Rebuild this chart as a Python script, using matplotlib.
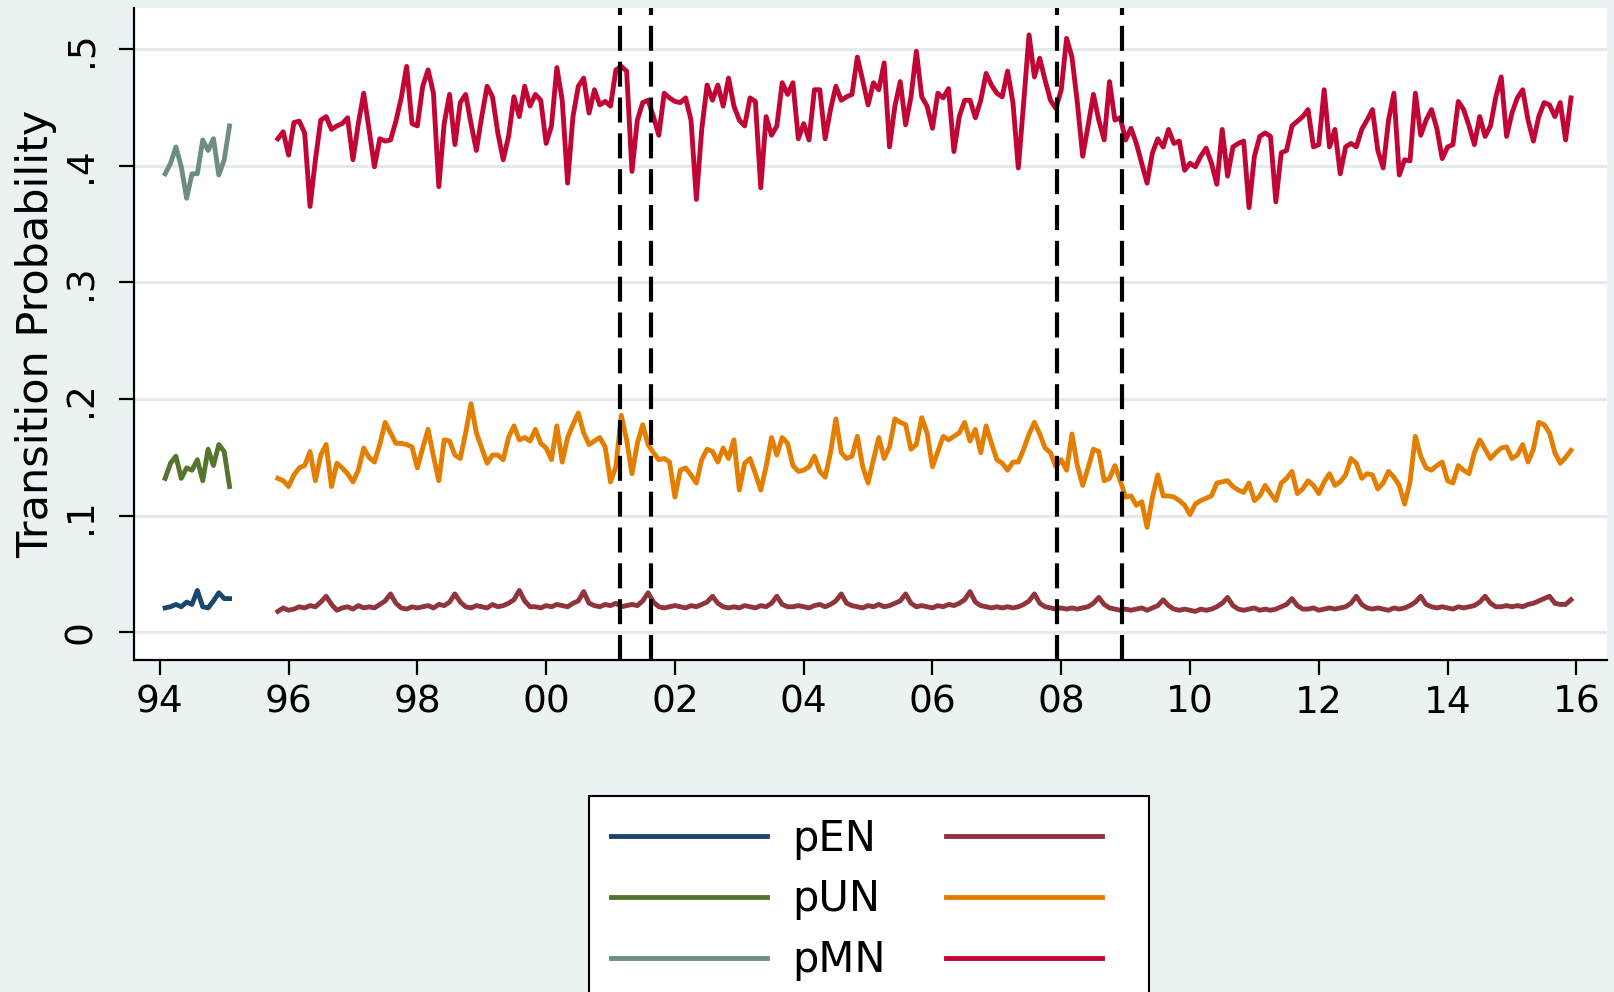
import numpy as np
import matplotlib.pyplot as plt

# monthly transition probabilities, first block Feb 1994 - Feb 1995
pEN_a = [0.021, 0.022, 0.024, 0.022, 0.026, 0.024, 0.036, 0.022, 0.021, 0.027, 0.034, 0.029, 0.029]
pUN_a = [0.132, 0.145, 0.151, 0.132, 0.141, 0.139, 0.148, 0.130, 0.157, 0.143, 0.161, 0.155, 0.125]
pMN_a = [0.393, 0.402, 0.416, 0.399, 0.372, 0.393, 0.393, 0.422, 0.413, 0.423, 0.392, 0.405, 0.434]

# second block Nov 1995 - Dec 2015 (one row = 12 months)
pEN_b = [
    0.018, 0.021, 0.019, 0.020, 0.022, 0.021, 0.023, 0.022, 0.026, 0.031, 0.024, 0.019,
    0.021, 0.022, 0.020, 0.023, 0.021, 0.022, 0.021, 0.024, 0.027, 0.033, 0.025, 0.021,
    0.020, 0.022, 0.021, 0.022, 0.023, 0.021, 0.024, 0.023, 0.026, 0.033, 0.026, 0.022,
    0.021, 0.023, 0.022, 0.021, 0.024, 0.022, 0.023, 0.025, 0.028, 0.036, 0.027, 0.022,
    0.022, 0.021, 0.023, 0.022, 0.024, 0.023, 0.022, 0.025, 0.027, 0.035, 0.025, 0.023,
    0.022, 0.024, 0.023, 0.025, 0.022, 0.023, 0.024, 0.023, 0.027, 0.034, 0.026, 0.022,
    0.021, 0.022, 0.023, 0.022, 0.021, 0.023, 0.022, 0.024, 0.026, 0.031, 0.025, 0.022,
    0.021, 0.022, 0.021, 0.023, 0.022, 0.021, 0.023, 0.022, 0.025, 0.031, 0.024, 0.022,
    0.022, 0.023, 0.022, 0.021, 0.023, 0.024, 0.022, 0.024, 0.027, 0.033, 0.025, 0.023,
    0.022, 0.021, 0.023, 0.022, 0.024, 0.022, 0.023, 0.025, 0.027, 0.033, 0.025, 0.022,
    0.023, 0.022, 0.021, 0.023, 0.022, 0.024, 0.023, 0.025, 0.028, 0.035, 0.026, 0.023,
    0.022, 0.021, 0.022, 0.021, 0.022, 0.021, 0.022, 0.024, 0.027, 0.033, 0.025, 0.022,
    0.021, 0.020, 0.021, 0.020, 0.021, 0.020, 0.021, 0.022, 0.025, 0.030, 0.024, 0.021,
    0.020, 0.019, 0.020, 0.019, 0.020, 0.021, 0.019, 0.021, 0.023, 0.028, 0.023, 0.020,
    0.019, 0.020, 0.019, 0.018, 0.020, 0.019, 0.020, 0.022, 0.025, 0.030, 0.023, 0.020,
    0.019, 0.020, 0.021, 0.019, 0.020, 0.019, 0.020, 0.022, 0.024, 0.029, 0.023, 0.020,
    0.020, 0.021, 0.019, 0.020, 0.021, 0.020, 0.021, 0.022, 0.025, 0.031, 0.024, 0.021,
    0.020, 0.021, 0.020, 0.019, 0.021, 0.020, 0.021, 0.023, 0.026, 0.031, 0.024, 0.022,
    0.021, 0.022, 0.021, 0.020, 0.022, 0.021, 0.022, 0.023, 0.026, 0.031, 0.025, 0.022,
    0.022, 0.023, 0.022, 0.023, 0.022, 0.024, 0.025, 0.027, 0.029, 0.031, 0.025, 0.024,
    0.024, 0.028,
]
pUN_b = [
    0.132, 0.130, 0.125, 0.135, 0.141, 0.143, 0.155, 0.130, 0.152, 0.161, 0.125, 0.145,
    0.141, 0.136, 0.129, 0.139, 0.158, 0.150, 0.146, 0.161, 0.180, 0.171, 0.162, 0.162,
    0.161, 0.159, 0.141, 0.158, 0.174, 0.151, 0.130, 0.165, 0.164, 0.152, 0.149, 0.171,
    0.196, 0.171, 0.158, 0.145, 0.152, 0.152, 0.148, 0.167, 0.177, 0.165, 0.167, 0.164,
    0.174, 0.162, 0.158, 0.148, 0.177, 0.146, 0.167, 0.178, 0.188, 0.171, 0.161, 0.164,
    0.167, 0.159, 0.129, 0.142, 0.186, 0.165, 0.136, 0.162, 0.178, 0.161, 0.154, 0.148,
    0.149, 0.146, 0.116, 0.139, 0.141, 0.135, 0.128, 0.148, 0.157, 0.155, 0.146, 0.158,
    0.149, 0.165, 0.122, 0.145, 0.149, 0.136, 0.122, 0.142, 0.167, 0.152, 0.167, 0.162,
    0.143, 0.138, 0.139, 0.142, 0.151, 0.138, 0.133, 0.154, 0.183, 0.154, 0.149, 0.151,
    0.168, 0.142, 0.128, 0.148, 0.167, 0.149, 0.159, 0.183, 0.180, 0.178, 0.157, 0.161,
    0.184, 0.171, 0.142, 0.155, 0.168, 0.165, 0.168, 0.171, 0.180, 0.164, 0.174, 0.154,
    0.177, 0.162, 0.148, 0.145, 0.139, 0.146, 0.146, 0.157, 0.170, 0.180, 0.170, 0.158,
    0.154, 0.142, 0.148, 0.139, 0.170, 0.143, 0.126, 0.141, 0.157, 0.155, 0.130, 0.132,
    0.143, 0.130, 0.116, 0.117, 0.109, 0.112, 0.090, 0.116, 0.135, 0.117, 0.117, 0.116,
    0.113, 0.109, 0.101, 0.110, 0.113, 0.115, 0.117, 0.128, 0.129, 0.130, 0.125, 0.122,
    0.120, 0.128, 0.113, 0.117, 0.126, 0.119, 0.113, 0.128, 0.132, 0.138, 0.119, 0.123,
    0.130, 0.126, 0.119, 0.129, 0.136, 0.126, 0.129, 0.135, 0.149, 0.145, 0.132, 0.136,
    0.135, 0.123, 0.128, 0.138, 0.133, 0.126, 0.110, 0.129, 0.168, 0.151, 0.141, 0.139,
    0.143, 0.146, 0.130, 0.128, 0.143, 0.139, 0.136, 0.154, 0.165, 0.157, 0.149, 0.154,
    0.158, 0.159, 0.149, 0.152, 0.161, 0.146, 0.157, 0.180, 0.178, 0.171, 0.154, 0.145,
    0.150, 0.156,
]
pMN_b = [
    0.423, 0.429, 0.409, 0.437, 0.438, 0.428, 0.365, 0.405, 0.439, 0.442, 0.431, 0.434,
    0.436, 0.441, 0.405, 0.436, 0.462, 0.431, 0.399, 0.423, 0.421, 0.422, 0.438, 0.458,
    0.485, 0.436, 0.434, 0.468, 0.482, 0.462, 0.382, 0.436, 0.461, 0.418, 0.454, 0.461,
    0.436, 0.413, 0.442, 0.468, 0.459, 0.428, 0.405, 0.425, 0.459, 0.442, 0.468, 0.451,
    0.461, 0.456, 0.419, 0.434, 0.484, 0.456, 0.385, 0.442, 0.468, 0.475, 0.445, 0.465,
    0.452, 0.455, 0.451, 0.482, 0.485, 0.481, 0.395, 0.439, 0.454, 0.456, 0.442, 0.426,
    0.462, 0.458, 0.455, 0.454, 0.458, 0.439, 0.371, 0.431, 0.469, 0.456, 0.469, 0.451,
    0.475, 0.451, 0.439, 0.434, 0.458, 0.455, 0.381, 0.442, 0.426, 0.434, 0.471, 0.461,
    0.471, 0.423, 0.436, 0.422, 0.465, 0.465, 0.423, 0.448, 0.468, 0.456, 0.459, 0.461,
    0.493, 0.473, 0.452, 0.471, 0.465, 0.488, 0.416, 0.451, 0.472, 0.435, 0.459, 0.498,
    0.459, 0.451, 0.432, 0.462, 0.458, 0.466, 0.412, 0.442, 0.456, 0.456, 0.441, 0.456,
    0.479, 0.469, 0.462, 0.459, 0.481, 0.454, 0.398, 0.454, 0.512, 0.476, 0.492, 0.473,
    0.456, 0.449, 0.465, 0.509, 0.493, 0.454, 0.408, 0.434, 0.461, 0.439, 0.422, 0.472,
    0.439, 0.441, 0.422, 0.432, 0.419, 0.402, 0.385, 0.411, 0.423, 0.416, 0.431, 0.419,
    0.421, 0.396, 0.402, 0.399, 0.408, 0.415, 0.402, 0.384, 0.431, 0.391, 0.416, 0.419,
    0.421, 0.364, 0.408, 0.425, 0.428, 0.425, 0.369, 0.411, 0.413, 0.434, 0.438, 0.442,
    0.448, 0.416, 0.418, 0.465, 0.416, 0.431, 0.393, 0.416, 0.419, 0.416, 0.431, 0.439,
    0.448, 0.413, 0.398, 0.439, 0.462, 0.392, 0.405, 0.404, 0.462, 0.426, 0.439, 0.448,
    0.432, 0.406, 0.416, 0.418, 0.455, 0.448, 0.434, 0.418, 0.442, 0.425, 0.434, 0.459,
    0.476, 0.425, 0.445, 0.458, 0.465, 0.439, 0.421, 0.442, 0.454, 0.452, 0.442, 0.454,
    0.422, 0.458,
]

# dashed reference lines (decimal years)
vlines = [2001.15, 2001.63, 2007.93, 2008.95]

x_ticks = [1994, 1996, 1998, 2000, 2002, 2004, 2006, 2008, 2010, 2012, 2014, 2016]
x_labels = ["94", "96", "98", "00", "02", "04", "06", "08", "10", "12", "14", "16"]
y_ticks = [0, 0.1, 0.2, 0.3, 0.4, 0.5]
y_labels = ["0", ".1", ".2", ".3", ".4", ".5"]
legend_labels = ["pEN", "pUN", "pMN", "", "", ""]

bg = "#eaf2f3"
grid_c = "#e3ebec"
c_en_a, c_un_a, c_mn_a = "#1a476f", "#55752f", "#6e8e84"
c_en_b, c_un_b, c_mn_b = "#90353b", "#e37e00", "#c10534"

t_a = 1994 + (1 + np.arange(len(pEN_a))) / 12.0
t_b = 1995 + (10 + np.arange(len(pEN_b))) / 12.0

fig = plt.figure(figsize=(16.15, 9.92), dpi=100, facecolor=bg)
ax = fig.add_axes([0.083, 0.3347, 0.912, 0.6573])
ax.set_facecolor("white")

for y in y_ticks:
    ax.axhline(y, color=grid_c, lw=2.2, zorder=0)

lw = 3.5
h1, = ax.plot(t_a, pEN_a, color=c_en_a, lw=lw)
h2, = ax.plot(t_a, pUN_a, color=c_un_a, lw=lw)
h3, = ax.plot(t_a, pMN_a, color=c_mn_a, lw=lw)
h4, = ax.plot(t_b, pEN_b, color=c_en_b, lw=lw)
h5, = ax.plot(t_b, pUN_b, color=c_un_b, lw=lw)
h6, = ax.plot(t_b, pMN_b, color=c_mn_b, lw=lw)

for xv in vlines:
    ax.axvline(xv, color="black", lw=3.0, dashes=(6, 2.6), zorder=5)

ax.set_xlim(1993.60, 2016.475)
ax.set_ylim(-0.0236, 0.5351)
for s in ["top", "right"]:
    ax.spines[s].set_visible(False)
for s in ["left", "bottom"]:
    ax.spines[s].set_linewidth(1.6)

ax.set_xticks(x_ticks)
ax.set_xticklabels(x_labels)
ax.set_yticks(y_ticks)
ax.set_yticklabels(y_labels, rotation=90, va="center")
ax.tick_params(axis="both", direction="out", length=11, width=1.6, labelsize=27)
ax.tick_params(axis="x", pad=7)
ax.tick_params(axis="y", pad=14)

ax.set_ylabel("Transition Probability", fontsize=31)
ax.yaxis.set_label_coords(-0.0525, 0.5)

leg = fig.legend([h1, h2, h3, h4, h5, h6], legend_labels, loc="upper center",
                 bbox_to_anchor=(0.5381, 0.1976), ncol=2, fontsize=30,
                 handlelength=3.75, handletextpad=0.6, columnspacing=1.45,
                 labelspacing=0.45, borderpad=0.52, borderaxespad=0,
                 frameon=True, fancybox=False, edgecolor="black", framealpha=1)
leg.get_frame().set_linewidth(1.5)

fig.savefig("out.png", dpi=100, facecolor=bg)
